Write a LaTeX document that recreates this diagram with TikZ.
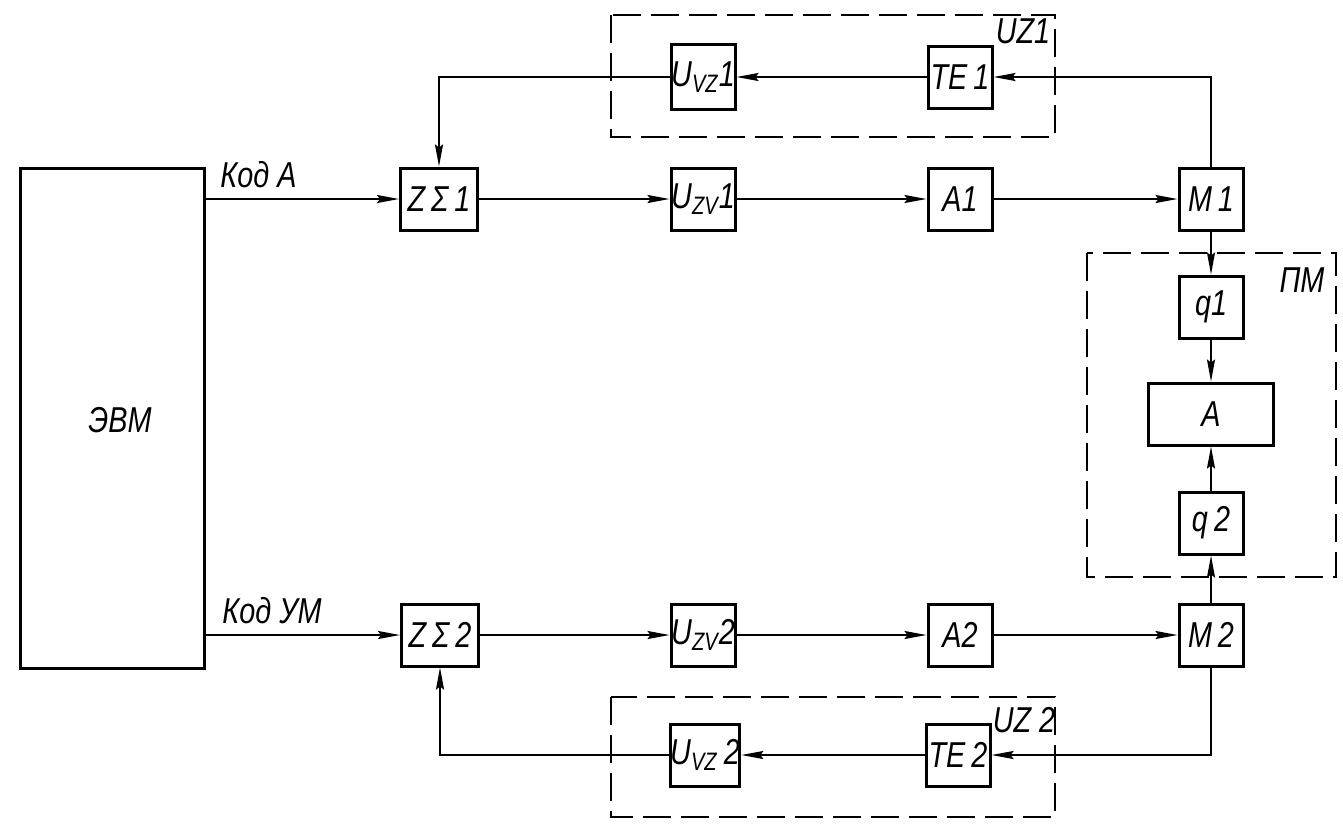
\documentclass[tikz,border=0pt]{standalone}
\usepackage{fontspec}
\setmainfont{Liberation Sans}[FakeStretch=0.8]
\usetikzlibrary{arrows.meta}

\newcommand{\blkfont}{\fontsize{18}{20}\selectfont\itshape}

\tikzset{
  blk/.style={draw, line width=1.5pt, inner sep=0pt, minimum width=32pt,
    minimum height=31pt, font=\blkfont},
  wire/.style={line width=1pt, -{Stealth[length=11pt,width=4pt,inset=1.5pt]}},
  frame/.style={line width=1.1pt, dash pattern=on 14pt off 5pt},
  tag/.style={inner sep=0pt, font=\blkfont},
}

\begin{document}
\begin{tikzpicture}[x=0.5pt, y=-0.5pt]
    \useasboundingbox (0,0) rectangle (1343,832);

    % dashed groups
    \draw[frame] (611,15) rectangle (1055,137);
    \draw[frame] (1087,253) rectangle (1336,577);
    \draw[frame] (611,697) rectangle (1055,817);
    \node[tag] (uz1) at (1023,31) {UZ1};
    \node[tag] (pm) at (1302,280) {ПМ};
    \node[tag] (uz2) at (1024,720) {UZ 2};

    % computer
    \node[blk, minimum width=92pt, minimum height=250pt] (evm) at (112,418) {};
    \node[tag] (evmtext) at (120,420) {ЭВМ};

    % upper channel
    \node[blk, minimum width=38.5pt] (zs1) at (439,199) {Z\,Σ\,1};
    \node[blk] (uzv1) at (703,199) {U\textsubscript{ZV}1};
    \node[blk] (a1) at (960,199) {A1};
    \node[blk] (m1) at (1211,199) {M\,1};
    \node[blk] (te1) at (960,77) {TE\,1};
    \node[blk, minimum height=32.5pt] (uvz1) at (703,77) {U\textsubscript{VZ}1};

    % memory
    \node[blk] (q1) at (1211,307) {q1};
    \node[blk, minimum width=62.5pt] (amem) at (1211,414) {A};
    \node[blk] (q2) at (1211,523) {q\,2};

    % lower channel
    \node[blk, minimum width=38.5pt] (zs2) at (440,635) {Z\,Σ\,2};
    \node[blk] (uzv2) at (703,635) {U\textsubscript{ZV}2};
    \node[blk] (a2) at (960,635) {A2};
    \node[blk] (m2) at (1211,635) {M\,2};
    \node[blk] (te2) at (958,755) {TE\,2};
    \node[blk] (uvz2) at (705,755) {U\textsubscript{VZ}\,2};

    % codes from the computer
    \draw[wire] (evm.east |- zs1) -- (zs1);
    \draw[wire] (evm.east |- zs2) -- (zs2);
    \node[tag, anchor=base west] (koda) at (220,187) {Код А};
    \node[tag, anchor=base west] (kodum) at (222,623) {Код УМ};

    % forward paths
    \draw[wire] (zs1) -- (uzv1);
    \draw[wire] (uzv1) -- (a1);
    \draw[wire] (a1) -- (m1);
    \draw[wire] (zs2) -- (uzv2);
    \draw[wire] (uzv2) -- (a2);
    \draw[wire] (a2) -- (m2);

    % feedback loops
    \draw[wire] (m1.north) |- (te1);
    \draw[wire] (te1) -- (uvz1);
    \draw[wire] (uvz1) -| (zs1);
    \draw[wire] (m2.south) |- (te2);
    \draw[wire] (te2) -- (uvz2);
    \draw[wire] (uvz2) -| (zs2);

    % into the memory
    \draw[wire] (m1) -- (q1);
    \draw[wire] (q1) -- (amem);
    \draw[wire] (q2) -- (amem);
    \draw[wire] (m2) -- (q2);
\end{tikzpicture}
\end{document}
